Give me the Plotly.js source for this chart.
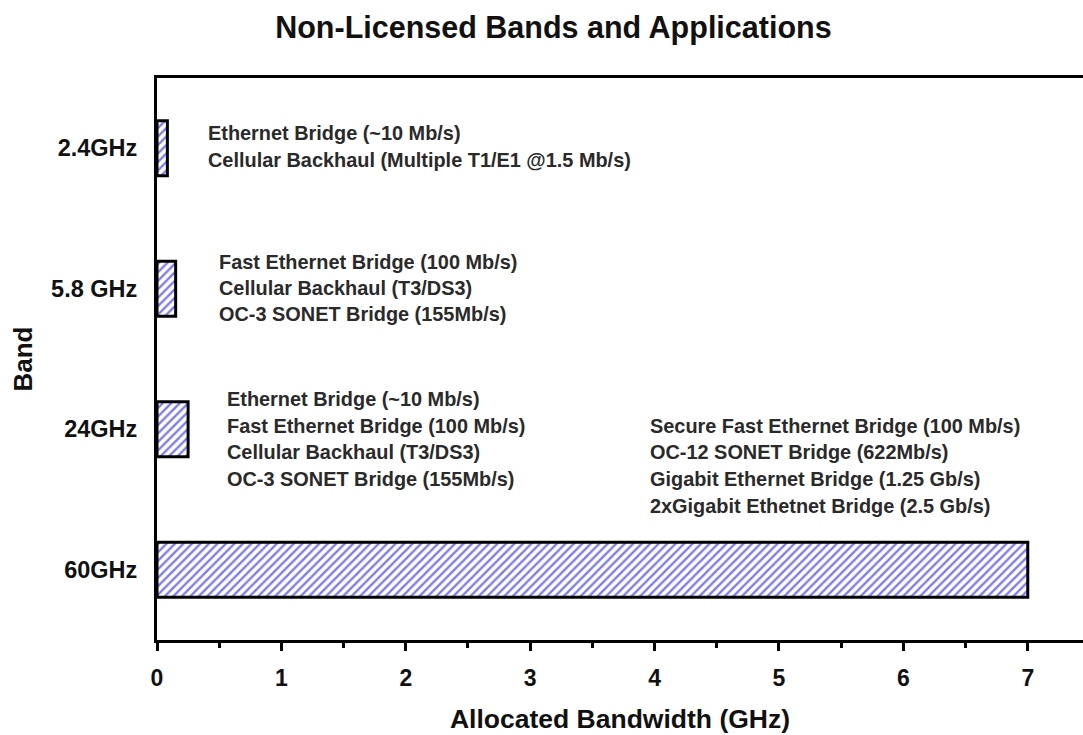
<!DOCTYPE html>
<html>
<head>
<meta charset="utf-8">
<script src="https://cdn.plot.ly/plotly-3.0.1.min.js"></script>
<style>html,body{margin:0;padding:0;background:#fff;}#chart{width:1083px;height:735px;}</style>
</head>
<body>
<div id="chart"></div>
<script>
// Data
var bands = ["2.4GHz", "5.8 GHz", "24GHz", "60GHz"];
var bandwidthGHz = [0.0835, 0.15, 0.25, 7.0];

var apps24 = ["Ethernet Bridge (~10 Mb/s)", "Cellular Backhaul (Multiple T1/E1 @1.5 Mb/s)"];
var apps58 = ["Fast Ethernet Bridge (100 Mb/s)", "Cellular Backhaul (T3/DS3)", "OC-3 SONET Bridge (155Mb/s)"];
var apps24G = ["Ethernet Bridge (~10 Mb/s)", "Fast Ethernet Bridge (100 Mb/s)", "Cellular Backhaul (T3/DS3)", "OC-3 SONET Bridge (155Mb/s)"];
var apps60 = ["Secure Fast Ethernet Bridge (100 Mb/s)", "OC-12 SONET Bridge (622Mb/s)", "Gigabit Ethernet Bridge (1.25 Gb/s)", "2xGigabit Ethetnet Bridge (2.5 Gb/s)"];

var FONT = "Liberation Sans, Arial, sans-serif";

var trace = {
  type: "bar",
  orientation: "h",
  y: bands,
  x: bandwidthGHz,
  width: 0.39,
  marker: {
    color: "#ffffff",
    line: {color: "#000000", width: 3},
    pattern: {shape: "/", fgcolor: "#7c7cf0", bgcolor: "#ffffff", size: 6, solidity: 0.4}
  },
  hoverinfo: "skip"
};

// annotation blocks: lines, band, x start (data units), vertical pixel offsets
var blocks = [
  {lines: apps24, band: 0, x: 0.39, shifts: [-15, 12]},
  {lines: apps58, band: 1, x: 0.48, shifts: [-27, -1, 25]},
  {lines: apps24G, band: 2, x: 0.55, shifts: [-30, -3, 23, 50]},
  {lines: apps60, band: 2, x: 3.945, shifts: [-3, 23, 50, 77]}
];
var annotations = [];
blocks.forEach(function(b){
  b.lines.forEach(function(t, i){
    annotations.push({
      text: t, xref: "x", yref: "y", x: b.x, y: bands[b.band],
      xanchor: "left", yanchor: "middle", yshift: -b.shifts[i],
      showarrow: false, align: "left",
      font: {family: FONT, size: 19.9, color: "#2a2a2a", weight: "bold"}
    });
  });
});

var layout = {
  width: 1083, height: 735,
  margin: {l: 157, r: 0, t: 78, b: 95},
  paper_bgcolor: "#ffffff", plot_bgcolor: "#ffffff",
  showlegend: false,
  title: {text: "Non-Licensed Bands and Applications", x: 0.511, xanchor: "center", y: 0.963, yanchor: "middle",
          font: {family: FONT, size: 30.5, color: "#111111", weight: "bold"}},
  xaxis: {
    range: [0, 7.444], showgrid: false, zeroline: false,
    showline: true, linecolor: "#000000", linewidth: 3, mirror: true,
    ticks: "outside", ticklen: 8, tickwidth: 3, tickcolor: "#000000", dtick: 1, tick0: 0,
    minor: {dtick: 0.5, ticks: "outside", ticklen: 5, tickwidth: 3, tickcolor: "#000000"},
    ticklabelstandoff: 7,
    tickfont: {family: FONT, size: 23, color: "#111111", weight: "bold"},
    title: {text: "Allocated Bandwidth (GHz)", standoff: 20, font: {family: FONT, size: 26.5, color: "#111111", weight: "bold"}}
  },
  yaxis: {
    type: "category", categoryorder: "array", categoryarray: bands,
    range: [3.5, -0.5], showgrid: false, zeroline: false,
    showline: true, linecolor: "#000000", linewidth: 3,
    ticks: "", ticklabelstandoff: 12,
    tickfont: {family: FONT, size: 23.5, color: "#111111", weight: "bold"},
    title: {text: "Band", standoff: 11, font: {family: FONT, size: 26, color: "#111111", weight: "bold"}}
  },
  annotations: annotations
};

Plotly.newPlot("chart", [trace], layout, {displayModeBar: false, staticPlot: true});
</script>
</body>
</html>
